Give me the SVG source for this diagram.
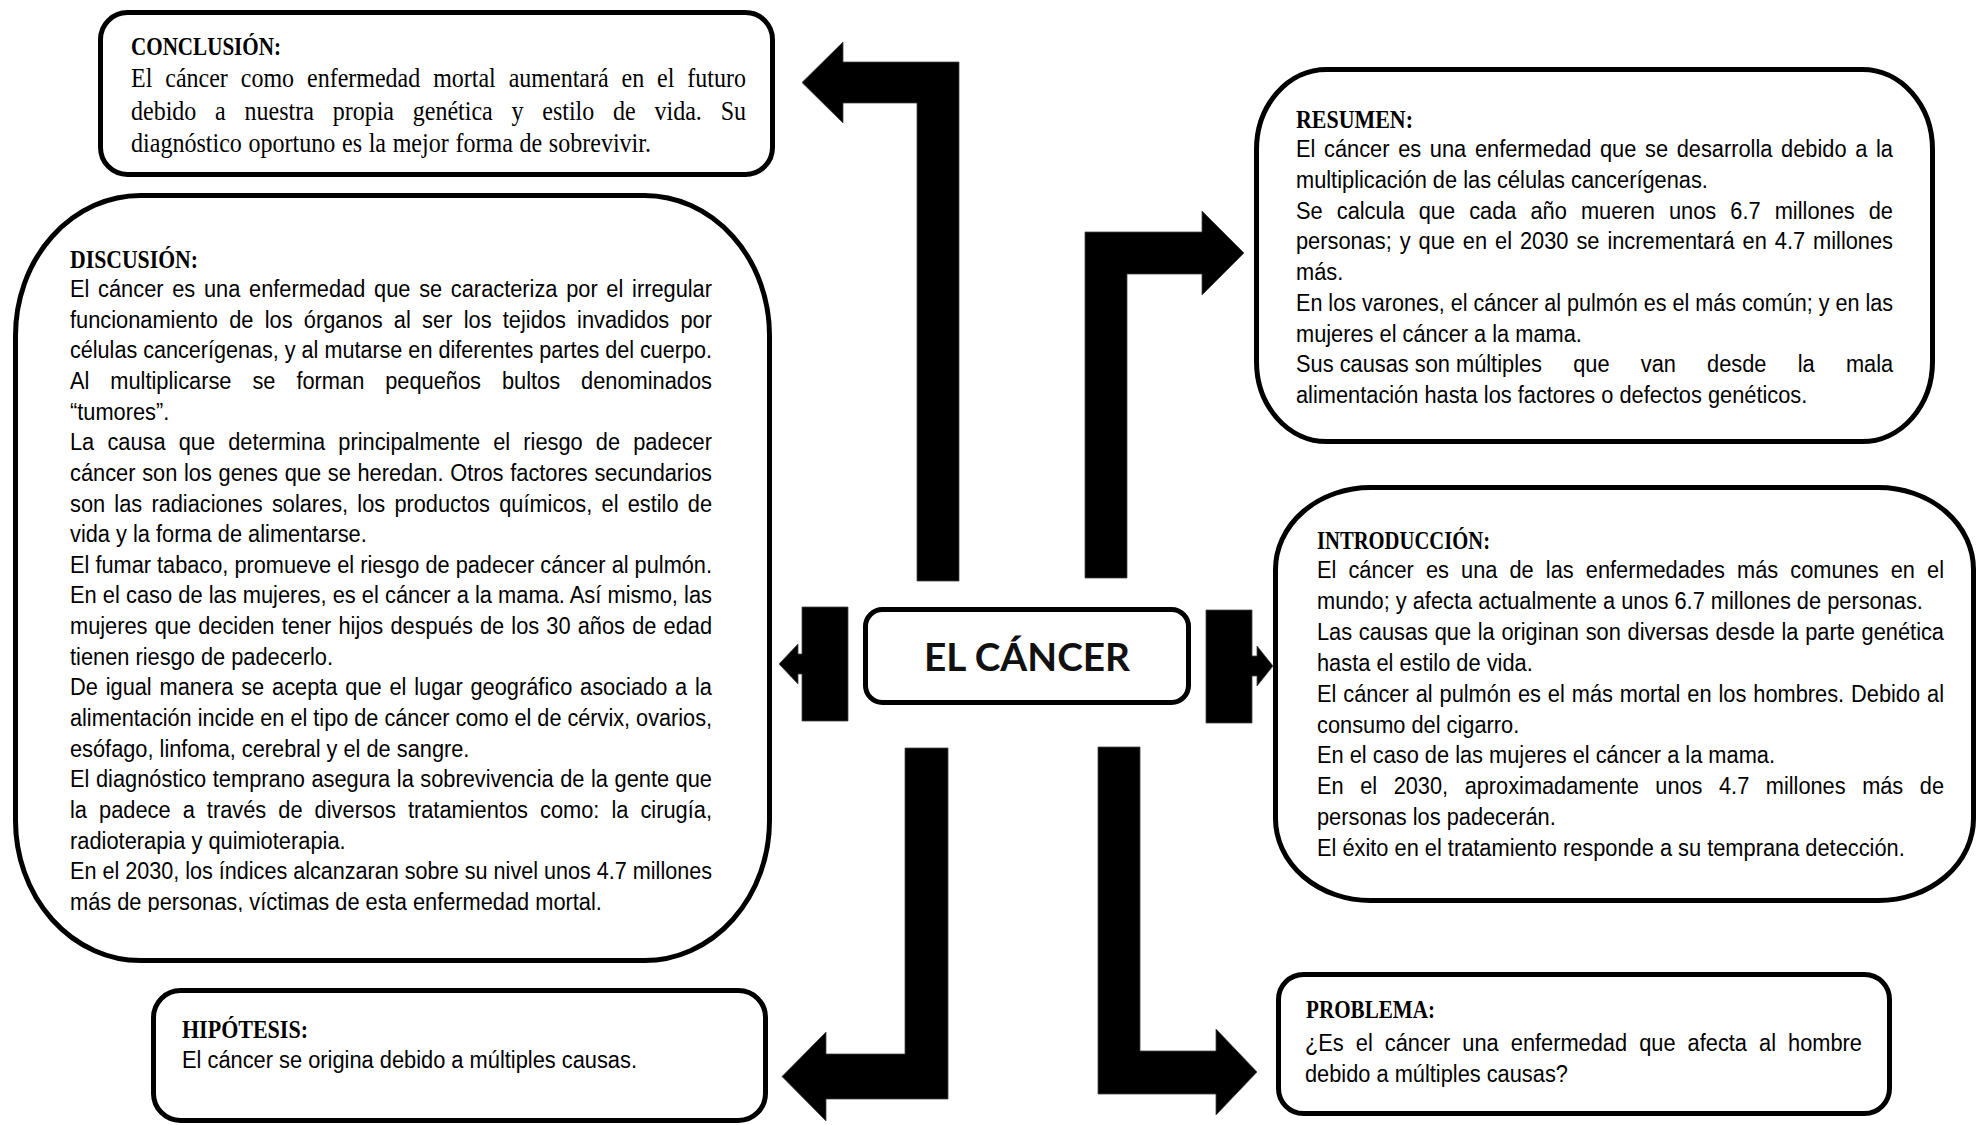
<svg xmlns="http://www.w3.org/2000/svg" width="1977" height="1125" viewBox="0 0 1977 1125">
<style>
.box{fill:#fff;stroke:#000;stroke-width:5}
.arrow{fill:#000;stroke:#444;stroke-width:0.8}
.t{font-family:"Liberation Sans",Arial,sans-serif;font-size:23px;fill:#000}
.s{font-family:"Liberation Serif","Times New Roman",serif;font-size:27px;fill:#000}
.h{font-family:"Liberation Serif","Times New Roman",serif;font-size:26px;font-weight:bold;fill:#000}
.c{font-family:Lato,"Open Sans","Liberation Sans",sans-serif;font-size:38px;font-weight:bold;fill:#111}
</style>
<defs>
<clipPath id="clipDisc"><rect x="0" y="190" width="780" height="722"/></clipPath>
</defs>
<rect width="1977" height="1125" fill="#fff"/>

<g id="connectors">
<polygon class="arrow" points="959,581 959,62 843,62 843,42 802,82.5 843,123 843,103 917,103 917,581"/>
<polygon class="arrow" points="1085,578 1085,232 1202,232 1202,211 1244,253 1202,295 1202,274 1127,274 1127,578"/>
<polygon class="arrow" points="848,607 848,721 802,721 802,674 798,674 798,684 779,664 798,644 798,654 802,654 802,607"/>
<polygon class="arrow" points="1206,610 1252,610 1252,656 1257,656 1257,646 1273,666 1257,686 1257,676 1252,676 1252,723 1206,723"/>
<polygon class="arrow" points="905,748 948,748 948,1099 826,1099 826,1121 782,1076.5 826,1032 826,1054 905,1054"/>
<polygon class="arrow" points="1098,747 1140,747 1140,1051 1216,1051 1216,1029 1257,1072 1216,1115 1216,1094 1098,1094"/>
</g>

<g id="node-conclusion">
<rect class="box" x="100.5" y="12.5" width="672" height="162" rx="27"/>
<text class="h" x="131" y="55" textLength="150" lengthAdjust="spacingAndGlyphs">CONCLUSIÓN:</text>
<text class="s" x="131" y="87" word-spacing="7.8" textLength="615" lengthAdjust="spacingAndGlyphs">El cáncer como enfermedad mortal aumentará en el futuro</text>
<text class="s" x="131" y="120" word-spacing="14.4" textLength="615" lengthAdjust="spacingAndGlyphs">debido a nuestra propia genética y estilo de vida. Su</text>
<text class="s" x="131" y="152" word-spacing="0.7" textLength="520" lengthAdjust="spacingAndGlyphs">diagnóstico oportuno es la mejor forma de sobrevivir.</text>
</g>

<g id="node-discusion">
<rect class="box" x="15.5" y="195.5" width="754" height="765" rx="125" ry="140"/>
<text class="h" x="70" y="268" textLength="128" lengthAdjust="spacingAndGlyphs">DISCUSIÓN:</text>
<g clip-path="url(#clipDisc)">
<text class="t" x="70" y="297" word-spacing="2.8" textLength="642" lengthAdjust="spacingAndGlyphs">El cáncer es una enfermedad que se caracteriza por el irregular</text>
<text class="t" x="70" y="327.6" word-spacing="5.5" textLength="642" lengthAdjust="spacingAndGlyphs">funcionamiento de los órganos al ser los tejidos invadidos por</text>
<text class="t" x="70" y="358.3" textLength="642" lengthAdjust="spacingAndGlyphs">células cancerígenas, y al mutarse en diferentes partes del cuerpo.</text>
<text class="t" x="70" y="388.9" word-spacing="15.7" textLength="642" lengthAdjust="spacingAndGlyphs">Al multiplicarse se forman pequeños bultos denominados</text>
<text class="t" x="70" y="419.6" textLength="99.3" lengthAdjust="spacingAndGlyphs">“tumores”.</text>
<text class="t" x="70" y="450.2" word-spacing="7.5" textLength="642" lengthAdjust="spacingAndGlyphs">La causa que determina principalmente el riesgo de padecer</text>
<text class="t" x="70" y="480.8" word-spacing="0.7" textLength="642" lengthAdjust="spacingAndGlyphs">cáncer son los genes que se heredan. Otros factores secundarios</text>
<text class="t" x="70" y="511.5" word-spacing="3.4" textLength="642" lengthAdjust="spacingAndGlyphs">son las radiaciones solares, los productos químicos, el estilo de</text>
<text class="t" x="70" y="542.1" textLength="296.8" lengthAdjust="spacingAndGlyphs">vida y la forma de alimentarse.</text>
<text class="t" x="70" y="572.8" textLength="642" lengthAdjust="spacingAndGlyphs">El fumar tabaco, promueve el riesgo de padecer cáncer al pulmón.</text>
<text class="t" x="70" y="603.4" textLength="642" lengthAdjust="spacingAndGlyphs">En el caso de las mujeres, es el cáncer a la mama. Así mismo, las</text>
<text class="t" x="70" y="634" word-spacing="1.16" textLength="642" lengthAdjust="spacingAndGlyphs">mujeres que deciden tener hijos después de los 30 años de edad</text>
<text class="t" x="70" y="664.7" textLength="263" lengthAdjust="spacingAndGlyphs">tienen riesgo de padecerlo.</text>
<text class="t" x="70" y="695.3" word-spacing="1.85" textLength="642" lengthAdjust="spacingAndGlyphs">De igual manera se acepta que el lugar geográfico asociado a la</text>
<text class="t" x="70" y="726" textLength="642" lengthAdjust="spacingAndGlyphs">alimentación incide en el tipo de cáncer como el de cérvix, ovarios,</text>
<text class="t" x="70" y="756.6" textLength="399.4" lengthAdjust="spacingAndGlyphs">esófago, linfoma, cerebral y el de sangre.</text>
<text class="t" x="70" y="787.2" word-spacing="0.53" textLength="642" lengthAdjust="spacingAndGlyphs">El diagnóstico temprano asegura la sobrevivencia de la gente que</text>
<text class="t" x="70" y="817.9" word-spacing="6.33" textLength="642" lengthAdjust="spacingAndGlyphs">la padece a través de diversos tratamientos como: la cirugía,</text>
<text class="t" x="70" y="848.5" textLength="275.6" lengthAdjust="spacingAndGlyphs">radioterapia y quimioterapia.</text>
<text class="t" x="70" y="879.2" textLength="642" lengthAdjust="spacingAndGlyphs">En el 2030, los índices alcanzaran sobre su nivel unos 4.7 millones</text>
<text class="t" x="70" y="909.8" textLength="531.9" lengthAdjust="spacingAndGlyphs">más de personas, víctimas de esta enfermedad mortal.</text>
</g>
</g>

<g id="node-hipotesis">
<rect class="box" x="153.5" y="990.5" width="612" height="130" rx="27"/>
<text class="h" x="182" y="1038" textLength="126" lengthAdjust="spacingAndGlyphs">HIPÓTESIS:</text>
<text class="t" x="182" y="1068" textLength="455" lengthAdjust="spacingAndGlyphs">El cáncer se origina debido a múltiples causas.</text>
</g>

<g id="node-center">
<rect class="box" x="865.5" y="609.5" width="323" height="93" rx="17"/>
<text class="c" x="924" y="671" textLength="206" lengthAdjust="spacingAndGlyphs">EL CÁNCER</text>
</g>

<g id="node-resumen">
<rect class="box" x="1256.5" y="69.5" width="676" height="372" rx="70" ry="80"/>
<text class="h" x="1296" y="128" textLength="117" lengthAdjust="spacingAndGlyphs">RESUMEN:</text>
<text class="t" x="1296" y="157" word-spacing="2.74" textLength="597" lengthAdjust="spacingAndGlyphs">El cáncer es una enfermedad que se desarrolla debido a la</text>
<text class="t" x="1296" y="187.75" textLength="411.9" lengthAdjust="spacingAndGlyphs">multiplicación de las células cancerígenas.</text>
<text class="t" x="1296" y="218.5" word-spacing="8.44" textLength="597" lengthAdjust="spacingAndGlyphs">Se calcula que cada año mueren unos 6.7 millones de</text>
<text class="t" x="1296" y="249.25" word-spacing="2.0" textLength="597" lengthAdjust="spacingAndGlyphs">personas; y que en el 2030 se incrementará en 4.7 millones</text>
<text class="t" x="1296" y="280" textLength="47.2" lengthAdjust="spacingAndGlyphs">más.</text>
<text class="t" x="1296" y="310.75" textLength="597" lengthAdjust="spacingAndGlyphs">En los varones, el cáncer al pulmón es el más común; y en las</text>
<text class="t" x="1296" y="341.5" textLength="285.9" lengthAdjust="spacingAndGlyphs">mujeres el cáncer a la mama.</text>
<text class="t" x="1296" y="372.25" textLength="246" lengthAdjust="spacingAndGlyphs">Sus causas son múltiples</text>
<text class="t" x="1573.2" y="372.25" textLength="36.4" lengthAdjust="spacingAndGlyphs">que</text>
<text class="t" x="1640.8" y="372.25" textLength="35.1" lengthAdjust="spacingAndGlyphs">van</text>
<text class="t" x="1707.1" y="372.25" textLength="59.4" lengthAdjust="spacingAndGlyphs">desde</text>
<text class="t" x="1797.7" y="372.25" textLength="17" lengthAdjust="spacingAndGlyphs">la</text>
<text class="t" x="1845.9" y="372.25" textLength="47.2" lengthAdjust="spacingAndGlyphs">mala</text>
<text class="t" x="1296" y="403" textLength="511.3" lengthAdjust="spacingAndGlyphs">alimentación hasta los factores o defectos genéticos.</text>
</g>

<g id="node-introduccion">
<rect class="box" x="1275.5" y="487.5" width="698" height="413" rx="95" ry="82"/>
<text class="h" x="1317" y="549" textLength="173" lengthAdjust="spacingAndGlyphs">INTRODUCCIÓN:</text>
<text class="t" x="1317" y="578" word-spacing="6.44" textLength="627" lengthAdjust="spacingAndGlyphs">El cáncer es una de las enfermedades más comunes en el</text>
<text class="t" x="1317" y="608.9" textLength="605.9" lengthAdjust="spacingAndGlyphs">mundo; y afecta actualmente a unos 6.7 millones de personas.</text>
<text class="t" x="1317" y="639.8" word-spacing="0.7" textLength="627" lengthAdjust="spacingAndGlyphs">Las causas que la originan son diversas desde la parte genética</text>
<text class="t" x="1317" y="670.7" textLength="215.7" lengthAdjust="spacingAndGlyphs">hasta el estilo de vida.</text>
<text class="t" x="1317" y="701.6" word-spacing="0.91" textLength="627" lengthAdjust="spacingAndGlyphs">El cáncer al pulmón es el más mortal en los hombres. Debido al</text>
<text class="t" x="1317" y="732.5" textLength="202.3" lengthAdjust="spacingAndGlyphs">consumo del cigarro.</text>
<text class="t" x="1317" y="763.4" textLength="458" lengthAdjust="spacingAndGlyphs">En el caso de las mujeres el cáncer a la mama.</text>
<text class="t" x="1317" y="794.3" word-spacing="11.13" textLength="627" lengthAdjust="spacingAndGlyphs">En el 2030, aproximadamente unos 4.7 millones más de</text>
<text class="t" x="1317" y="825.2" textLength="238.7" lengthAdjust="spacingAndGlyphs">personas los padecerán.</text>
<text class="t" x="1317" y="856.1" textLength="587.7" lengthAdjust="spacingAndGlyphs">El éxito en el tratamiento responde a su temprana detección.</text>
</g>

<g id="node-problema">
<rect class="box" x="1278.5" y="974.5" width="611" height="139" rx="25"/>
<text class="h" x="1306" y="1018" textLength="129" lengthAdjust="spacingAndGlyphs">PROBLEMA:</text>
<text class="t" x="1305" y="1051" word-spacing="6.33" textLength="557" lengthAdjust="spacingAndGlyphs">¿Es el cáncer una enfermedad que afecta al hombre</text>
<text class="t" x="1305" y="1082" textLength="262.9" lengthAdjust="spacingAndGlyphs">debido a múltiples causas?</text>
</g>
</svg>
